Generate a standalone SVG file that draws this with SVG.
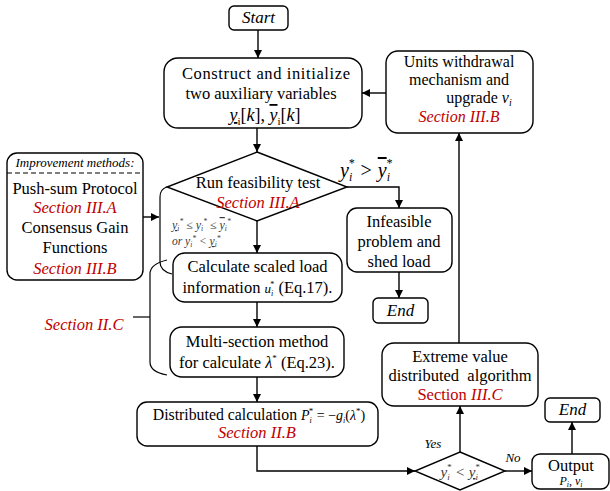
<svg xmlns="http://www.w3.org/2000/svg" width="610" height="491" viewBox="0 0 610 491">
<style>
.box{fill:#fff;stroke:#000;stroke-width:1.4}
.t{font-family:"Liberation Serif","Times New Roman",serif;font-size:16.5px;fill:#000;text-anchor:middle}
.red{fill:#c00000;font-style:italic}
.redu{fill:#c00000}
.i{font-style:italic}
.g{fill:#3a3a3a}
.c{fill:none;stroke:#000;stroke-width:1.4}
.br{fill:none;stroke:#000;stroke-width:1.2}
</style>
<defs>
<marker id="a" viewBox="0 0 10 10" refX="10" refY="5" markerWidth="8" markerHeight="8" markerUnits="userSpaceOnUse" orient="auto">
<path d="M0,0 L10,5 L0,10 z" fill="#000"/>
</marker>
</defs>
<rect width="610" height="491" fill="#fff"/>

<g id="connectors">
<path class="c" d="M258,30 V58" marker-end="url(#a)"/>
<path class="c" d="M386,93 H362" marker-end="url(#a)"/>
<path class="c" d="M257,128 V152" marker-end="url(#a)"/>
<path class="c" d="M347,187 H399 V208" marker-end="url(#a)"/>
<path class="c" d="M399,272 V298" marker-end="url(#a)"/>
<path class="c" d="M257,221 V253" marker-end="url(#a)"/>
<path class="c" d="M257,302 V327" marker-end="url(#a)"/>
<path class="c" d="M257,377 V402" marker-end="url(#a)"/>
<path class="c" d="M257,446 V471 H415" marker-end="url(#a)"/>
<path class="c" d="M460,452 V406" marker-end="url(#a)"/>
<path class="c" d="M459,343 V133" marker-end="url(#a)"/>
<path class="c" d="M505,471 H532" marker-end="url(#a)"/>
<path class="c" d="M572,454 V422" marker-end="url(#a)"/>
<path class="c" d="M143,217 H159" marker-end="url(#a)"/>
<path class="br" d="M167,187 Q160,189 160,197 V262 Q160,271 172,274"/>
<path class="br" d="M167,260 Q150,264 150,274 V362 Q150,372 167,375"/>
<path class="br" d="M133,317 H150"/>
<text class="t i" x="366" y="177" style="font-size:20px"><tspan>y</tspan><tspan font-size="12" dy="4">i</tspan><tspan font-size="12" dx="-4" dy="-14">*</tspan><tspan dy="10"> &gt; </tspan><tspan style="text-decoration:overline">y</tspan><tspan font-size="12" dy="4">i</tspan><tspan font-size="12" dx="-4" dy="-14">*</tspan></text>
<text class="t i g" x="172" y="229" style="font-size:12px;text-anchor:start"><tspan style="text-decoration:underline">y</tspan><tspan font-size="7.5" dy="2">i</tspan><tspan font-size="7.5" dy="-7">*</tspan><tspan dy="5"> ≤ y</tspan><tspan font-size="7.5" dy="2">i</tspan><tspan font-size="7.5" dy="-7">*</tspan><tspan dy="5"> ≤ </tspan><tspan style="text-decoration:overline">y</tspan><tspan font-size="7.5" dy="2">i</tspan><tspan font-size="7.5" dy="-7">*</tspan></text>
<text class="t i g" x="172" y="245" style="font-size:11.5px;text-anchor:start"><tspan>or y</tspan><tspan font-size="7.5" dy="2">i</tspan><tspan font-size="7.5" dy="-6">*</tspan><tspan dy="4"> &lt; </tspan><tspan style="text-decoration:underline">y</tspan><tspan font-size="7.5" dy="2">i</tspan><tspan font-size="7.5" dy="-6">*</tspan></text>
<text class="t i" x="433" y="448" style="font-size:13px">Yes</text>
<text class="t i" x="513" y="462" style="font-size:13px">No</text>
<text class="t red" x="84" y="330">Section II.C</text>
</g>

<g id="start">
<rect class="box" x="229" y="6" width="59" height="24" rx="5"/>
<text class="t i" x="258.5" y="23" style="font-size:17px">Start</text>
</g>

<g id="construct">
<rect class="box" x="164" y="58" width="198" height="70" rx="14"/>
<text class="t" x="266" y="79" textLength="168" lengthAdjust="spacing">Construct and initialize</text>
<text class="t" x="261" y="99">two auxiliary variables</text>
<text class="t" x="265" y="121" style="font-size:18px"><tspan class="i" style="text-decoration:underline">y</tspan><tspan font-size="11" dy="4">i</tspan><tspan dy="-4">[</tspan><tspan class="i">k</tspan><tspan>], </tspan><tspan class="i" style="text-decoration:overline">y</tspan><tspan font-size="11" dy="4">i</tspan><tspan dy="-4">[</tspan><tspan class="i">k</tspan><tspan>]</tspan></text>
</g>

<g id="units">
<rect class="box" x="386" y="51" width="147" height="82" rx="12"/>
<text class="t" x="459" y="67" style="font-size:16px">Units withdrawal</text>
<text class="t" x="459" y="85" style="font-size:16px">mechanism and</text>
<text class="t" x="479" y="103" style="font-size:16px">upgrade <tspan class="i">v</tspan><tspan class="i" font-size="10" dy="3">i</tspan></text>
<text class="t red" x="459" y="122" style="font-size:16px">Section III.B</text>
</g>

<g id="improvement">
<rect class="box" x="7" y="153" width="136" height="127" rx="10"/>
<path d="M7,173 H143" stroke="#000" stroke-width="1.2" stroke-dasharray="5,3"/>
<text class="t i" x="75" y="167" style="font-size:13px">Improvement methods:</text>
<text class="t" x="75" y="194">Push-sum Protocol</text>
<text class="t red" x="75" y="213">Section III.A</text>
<text class="t" x="75" y="233">Consensus Gain</text>
<text class="t" x="75" y="253">Functions</text>
<text class="t red" x="75" y="274">Section III.B</text>
</g>

<g id="feasibility">
<polygon class="box" points="257,152 347,187 257,221 167,187"/>
<text class="t" x="258" y="188">Run feasibility test</text>
<text class="t red" x="258" y="208">Section III.A</text>
</g>

<g id="infeasible">
<rect class="box" x="347" y="208" width="105" height="64" rx="10"/>
<text class="t" x="399" y="227">Infeasible</text>
<text class="t" x="399" y="247">problem and</text>
<text class="t" x="399" y="267">shed load</text>
</g>

<g id="end1">
<rect class="box" x="373" y="298" width="55" height="25" rx="5"/>
<text class="t i" x="400.5" y="316" style="font-size:17px">End</text>
</g>

<g id="calc">
<rect class="box" x="173" y="253" width="169" height="49" rx="12"/>
<text class="t" x="257.5" y="272">Calculate scaled load</text>
<text class="t" x="257.5" y="293">information <tspan class="i" font-size="13">u</tspan><tspan class="i" font-size="8" dy="3">i</tspan><tspan font-size="8" dx="-3" dy="-9">*</tspan><tspan dy="6"> (Eq.17).</tspan></text>
</g>

<g id="multi">
<rect class="box" x="170" y="327" width="174" height="50" rx="12"/>
<text class="t" x="257" y="347">Multi-section method</text>
<text class="t" x="257" y="368">for calculate <tspan class="i">λ</tspan><tspan font-size="9" dy="-7">*</tspan><tspan dy="7"> (Eq.23).</tspan></text>
</g>

<g id="distributed">
<rect class="box" x="137" y="402" width="241" height="44" rx="10"/>
<text class="t" x="259" y="420"><tspan style="font-size:15.8px">Distributed calculation </tspan><tspan class="i" font-size="14">P</tspan><tspan class="i" font-size="8" dy="3">i</tspan><tspan font-size="9" dx="-3" dy="-9">*</tspan><tspan font-size="14" dy="6"> = −</tspan><tspan class="i" font-size="14">g</tspan><tspan class="i" font-size="8" dy="3">i</tspan><tspan font-size="14" dy="-3">(</tspan><tspan class="i" font-size="14">λ</tspan><tspan font-size="9" dy="-6">*</tspan><tspan font-size="14" dy="6">)</tspan></text>
<text class="t red" x="257" y="438">Section II.B</text>
</g>

<g id="compare">
<polygon class="box" points="460,452 505,471 460,490 415,471"/>
<text class="t i g" x="460" y="477" style="font-size:15px"><tspan>y</tspan><tspan font-size="9" dy="3">i</tspan><tspan font-size="9" dx="-3" dy="-10">*</tspan><tspan dy="7"> &lt; </tspan><tspan style="text-decoration:underline">y</tspan><tspan font-size="9" dy="3">i</tspan><tspan font-size="9" dx="-3" dy="-10">*</tspan></text>
</g>

<g id="extreme">
<rect class="box" x="382" y="343" width="156" height="63" rx="12"/>
<text class="t" x="460" y="362">Extreme value</text>
<text class="t" x="460" y="381" xml:space="preserve">distributed  algorithm</text>
<text class="t redu" x="460" y="400">Section <tspan class="i">III.C</tspan></text>
</g>

<g id="output">
<rect class="box" x="532" y="454" width="77" height="35" rx="8"/>
<text class="t" x="571" y="471">Output</text>
<text class="t i" x="571" y="485" style="font-size:12px">P<tspan font-size="8" dy="2">i</tspan><tspan dy="-2" font-style="normal">, </tspan>v<tspan font-size="8" dy="2">i</tspan></text>
</g>

<g id="end2">
<rect class="box" x="545" y="398" width="55" height="24" rx="5"/>
<text class="t i" x="572.5" y="415" style="font-size:17px">End</text>
</g>
</svg>
